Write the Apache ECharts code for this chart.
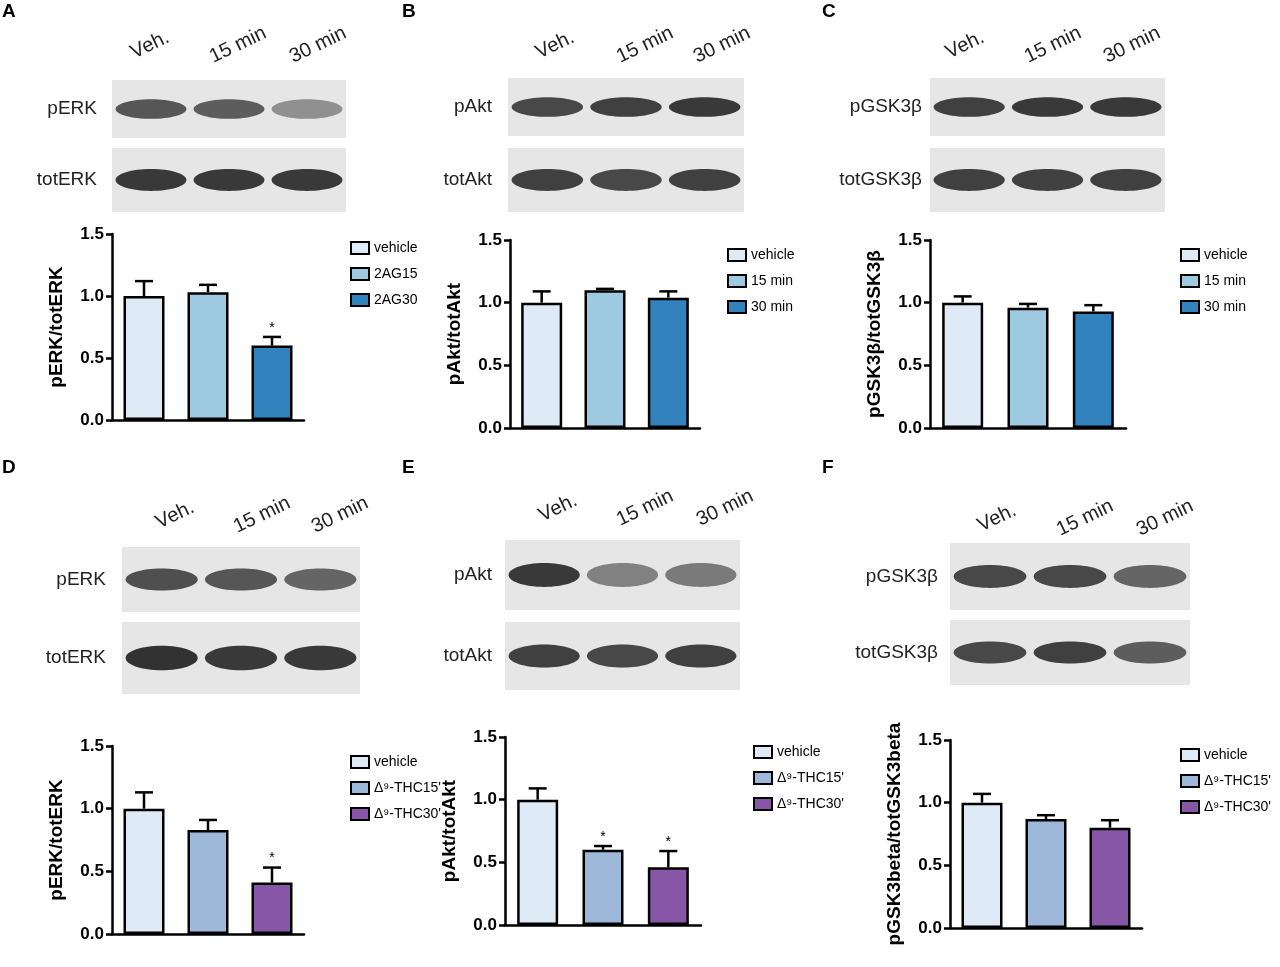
<!DOCTYPE html>
<html><head><meta charset="utf-8">
<script src="https://cdn.jsdelivr.net/npm/echarts@6/dist/echarts.min.js"></script>
<style>html,body{margin:0;background:#fff}#c{width:1280px;height:967px}</style></head>
<body><div id="c"></div>
<script>
const categories = ['vehicle','15 min','30 min'];
const namesA = ['vehicle','2AG15','2AG30'];
const namesB = ['vehicle','15 min','30 min'];
const namesD = ['vehicle','Δ⁹-THC15\'','Δ⁹-THC30\''];
const valuesA = [1.00,1.03,0.60], errA = [0.12,0.06,0.07], starA=[0,0,1];
const valuesB = [1.00,1.10,1.04], errB = [0.09,0.01,0.05], starB=[0,0,0];
const valuesC = [1.00,0.96,0.93], errC = [0.05,0.03,0.05], starC=[0,0,0];
const valuesD = [1.00,0.83,0.41], errD = [0.13,0.08,0.12], starD=[0,0,1];
const valuesE = [1.00,0.60,0.46], errE = [0.09,0.03,0.13], starE=[0,1,1];
const valuesF = [1.00,0.87,0.80], errF = [0.07,0.03,0.06], starF=[0,0,0];
const yTicks = [0,0.5,1.0,1.5];
const colorsTop = ['#deebf7','#9ecae1','#3182bd'];
const colorsBot = ['#deebf7','#9db8d9','#8856a7'];

const panels = [
 {v:valuesA,e:errA,s:starA,names:namesA,col:colorsTop,yname:'pERK/totERK',grid:{left:112,top:234,width:192,height:186},leg:{left:345,top:236}},
 {v:valuesB,e:errB,s:starB,names:namesB,col:colorsTop,yname:'pAkt/totAkt',grid:{left:510,top:240,width:190,height:188},leg:{left:722,top:243}},
 {v:valuesC,e:errC,s:starC,names:namesB,col:colorsTop,yname:'pGSK3β/totGSK3β',grid:{left:930,top:240,width:196,height:188},leg:{left:1175,top:243}},
 {v:valuesD,e:errD,s:starD,names:namesD,col:colorsBot,yname:'pERK/totERK',grid:{left:112,top:746,width:192,height:188},leg:{left:345,top:750}},
 {v:valuesE,e:errE,s:starE,names:namesD,col:colorsBot,yname:'pAkt/totAkt',grid:{left:505,top:737,width:196,height:188},leg:{left:748,top:740}},
 {v:valuesF,e:errF,s:starF,names:namesD,col:colorsBot,yname:'pGSK3beta/totGSK3beta',grid:{left:950,top:740,width:192,height:188},leg:{left:1175,top:743}}
];
const opt = {animation:false,textStyle:{fontFamily:'Liberation Sans, Arial'},grid:[],xAxis:[],yAxis:[],series:[],legend:[],graphic:[]};
panels.forEach((p,i)=>{
  opt.grid.push(p.grid);
  opt.xAxis.push({gridIndex:i,type:'category',data:categories,axisLabel:{show:false},axisTick:{show:false},axisLine:{lineStyle:{color:'#000',width:2.5}}});
  opt.yAxis.push({gridIndex:i,type:'value',min:0,max:1.5,interval:0.5,splitLine:{show:false},
    axisLine:{show:true,lineStyle:{color:'#000',width:2.5}},axisTick:{show:true,length:6,lineStyle:{width:2.5}},
    axisLabel:{fontWeight:'bold',fontSize:17,color:'#000',formatter:v=>v.toFixed(1)},
    name:p.yname,nameLocation:'middle',nameGap:46,nameTextStyle:{fontWeight:'bold',fontSize:19,color:'#000'}});
  p.names.forEach((n,k)=>{
    const d = categories.map((c,j)=> j===k ? {value:p.v[j],label:{show:!!p.s[j],position:'top',distance:p.e[j]*125+2,formatter:'*',fontSize:14,color:'#000'}} : '-');
    opt.series.push({type:'bar',name:n,xAxisIndex:i,yAxisIndex:i,data:d,barWidth:41,barGap:'-100%',
      itemStyle:{color:p.col[k],borderColor:'#000',borderWidth:2.5}});
  });
  opt.series.push({type:'custom',xAxisIndex:i,yAxisIndex:i,silent:true,z:1,
    data:p.v.map((v,j)=>[j,v,p.e[j]]),
    renderItem:(params,api)=>{
      const t=api.coord([api.value(0),api.value(1)]);const h=api.coord([api.value(0),api.value(1)+api.value(2)]);
      return {type:'group',children:[
        {type:'line',shape:{x1:t[0],y1:t[1],x2:h[0],y2:h[1]},style:{stroke:'#000',lineWidth:2.5}},
        {type:'line',shape:{x1:h[0]-9,y1:h[1],x2:h[0]+9,y2:h[1]},style:{stroke:'#000',lineWidth:2.5}}]};
    }});
  opt.legend.push({data:p.names,orient:'vertical',left:p.leg.left,top:p.leg.top,icon:'rect',itemWidth:18,itemHeight:12,itemGap:12,
    textStyle:{fontSize:14,color:'#000'},itemStyle:{borderColor:'#000',borderWidth:2}});
});
// blot illustrations
const blots = [
 {x:112,w:234,rows:[[80,58,'pERK',[0.75,0.7,0.35]],[148,64,'totERK',[0.95,0.95,0.95]]],lab:97,cols:[150,238,318],cy:45},
 {x:508,w:236,rows:[[78,58,'pAkt',[0.85,0.9,0.95]],[148,64,'totAkt',[0.9,0.85,0.9]]],lab:492,cols:[555,645,722],cy:45},
 {x:930,w:235,rows:[[78,58,'pGSK3β',[0.9,0.95,0.95]],[148,64,'totGSK3β',[0.9,0.9,0.9]]],lab:922,cols:[965,1053,1132],cy:45},
 {x:122,w:238,rows:[[547,65,'pERK',[0.8,0.75,0.65]],[622,72,'totERK',[1,0.95,0.95]]],lab:106,cols:[175,262,340],cy:515},
 {x:505,w:235,rows:[[540,70,'pAkt',[0.95,0.45,0.5]],[622,68,'totAkt',[0.9,0.85,0.9]]],lab:492,cols:[558,645,725],cy:508},
 {x:950,w:240,rows:[[543,67,'pGSK3β',[0.85,0.85,0.65]],[620,65,'totGSK3β',[0.85,0.9,0.7]]],lab:938,cols:[997,1085,1165],cy:518}
];
const colLabels=['Veh.','15 min','30 min'];
blots.forEach(b=>{
  b.rows.forEach(r=>{
    opt.graphic.push({type:'rect',shape:{x:b.x,y:r[0],width:b.w,height:r[1]},style:{fill:'#e6e6e6'}});
    r[3].forEach((a,k)=>{
      const g=Math.round(30+(1-a)*160);
      opt.graphic.push({type:'ellipse',shape:{cx:b.x+b.w*(2*k+1)/6,cy:r[0]+r[1]/2,rx:b.w/6.6,ry:r[1]*0.17},style:{fill:'rgb('+g+','+g+','+g+')',opacity:0.9}});
    });
    opt.graphic.push({type:'text',x:b.lab,y:r[0]+r[1]/2,style:{text:r[2],fontSize:19,fill:'#222',align:'right',verticalAlign:'middle'}});
  });
  b.cols.forEach((cx,k)=>opt.graphic.push({type:'text',x:cx,y:b.cy,rotation:Math.PI/7,style:{text:colLabels[k],fontSize:20,fill:'#222',align:'center',verticalAlign:'middle'}}));
});
[['A',0,12],['B',400,12],['C',820,12],['D',0,468],['E',400,468],['F',820,468]].forEach(l=>
  opt.graphic.push({type:'text',x:l[1]+2,y:l[2],style:{text:l[0],fontSize:19,fontWeight:'bold',fill:'#000',verticalAlign:'middle'}}));
echarts.init(document.getElementById('c')).setOption(opt);
</script></body></html>
